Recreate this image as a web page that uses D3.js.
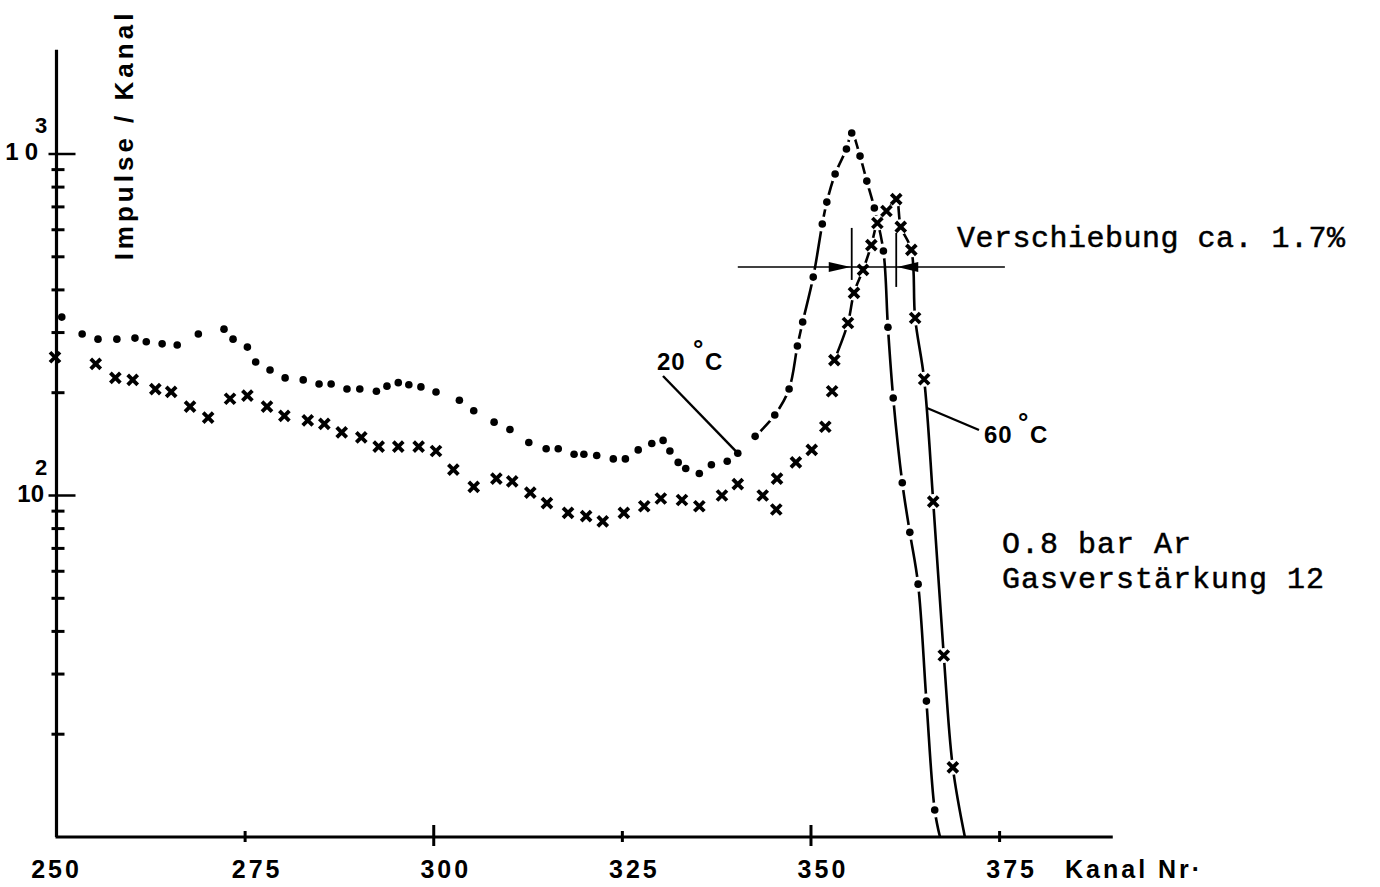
<!DOCTYPE html>
<html>
<head>
<meta charset="utf-8">
<script src="https://cdn.jsdelivr.net/npm/d3@7/dist/d3.min.js"></script>
<style>
body { margin: 0; background: #fff; }
svg { display: block; }
text { font-family: "Liberation Sans", Arial, sans-serif; fill: #000; font-weight: bold; }
.mono { font-family: "Liberation Mono", "Courier New", monospace; font-weight: normal; stroke: #000; stroke-width: 0.5; }
</style>
</head>
<body>
<div id="chart"></div>
<script>
// Kanal Nr. / Impulse pro Kanal
var ch20 = [250.7, 253.4, 255.5, 258.0, 260.4, 261.9, 264.0, 266.0, 268.8, 272.2, 273.4, 275.3, 276.4, 278.3, 280.3, 282.7, 284.8, 286.4, 288.5, 290.2,
    292.4, 293.8, 295.3, 296.7, 298.3, 300.3, 303.4, 305.3, 308.0, 310.1, 312.6, 314.9, 316.5, 318.6, 319.9, 321.6, 323.8, 325.4, 327.1, 328.9,
    330.4, 331.3, 332.4, 333.4, 335.2, 336.8, 338.9, 340.3, 342.6, 345.2, 347.1, 348.2, 348.9, 350.3, 351.5, 352.1, 353.2, 354.7, 355.4, 356.5,
    357.4, 358.4, 359.6, 360.2, 360.9, 362.1, 363.1, 364.2, 365.3, 366.4];
var cnt20 = [333, 297, 287, 287, 289, 282, 278, 276, 297, 307, 287, 272, 246, 233, 221, 218, 212, 212, 205, 205,
    202, 209, 214, 211, 208, 201, 190, 177, 164, 156, 143, 137, 137, 132, 132, 131, 128, 128, 136, 142,
    145, 135, 125, 120, 116, 123, 126, 133, 149, 172, 205, 274, 322, 436, 624, 723, 874, 1034, 1152, 986,
    833, 695, 520, 311, 193, 109, 78, 55, 25, 12];
var ch60 = [249.8, 255.2, 257.8, 260.1, 263.1, 265.2, 267.7, 270.1, 273.0, 275.3, 277.9, 280.2, 283.3, 285.5, 287.8, 290.4, 292.7, 295.3, 298.0, 300.3,
    302.6, 305.3, 308.3, 310.4, 312.8, 315.0, 317.8, 320.2, 322.4, 325.2, 327.9, 330.1, 332.9, 335.2, 338.2, 340.3, 343.6, 345.4, 345.5, 348.0,
    350.1, 351.9, 352.8, 353.1, 354.9, 355.7, 356.9, 358.0, 358.8, 360.0, 361.3, 361.9, 363.3, 363.8, 365.0, 366.2, 367.6, 368.8];
var cnt60 = [254, 243, 221, 218, 205, 201, 182, 169, 192, 196, 182, 171, 166, 162, 153, 148, 139, 139, 139, 135,
    119, 106, 112, 110, 102, 95, 89, 87, 84, 89, 93, 98, 97, 93, 100, 108, 100, 91, 112, 125,
    136, 159, 202, 249, 320, 392, 458, 541, 628, 681, 738, 612, 524, 331, 219, 96, 34, 16];
var curveFrom20 = 48, curveFrom60 = 43;
var end20 = [367.1, 10], end60 = [370.4, 10];

var xTicks = [250, 275, 300, 325, 350, 375];
var xTicksLong = [300, 350];
var yMajor = [100, 1000];
var yMinor = [20, 30, 40, 50, 60, 70, 80, 90, 200, 300, 400, 500, 600, 700, 800, 900];
var yExp = { 100: "2", 1000: "3" };
var peak20 = 355.4, peak60 = 361.3, shiftLevel = 467;

var width = 1380, height = 887;
var x = d3.scaleLinear().domain([250, 375]).range([56.5, 999.6]);
var y = d3.scaleLog().domain([10, 1000]).range([837, 154]);

var svg = d3.select("#chart").append("svg")
    .attr("width", width)
    .attr("height", height);

// axes
svg.append("line")
    .attr("x1", x(250)).attr("x2", x(250))
    .attr("y1", y(2020)).attr("y2", y(10))
    .attr("stroke", "#000").attr("stroke-width", 3.2);
svg.append("line")
    .attr("x1", x(250) - 1).attr("x2", x(390))
    .attr("y1", y(10)).attr("y2", y(10))
    .attr("stroke", "#000").attr("stroke-width", 3.2);

svg.selectAll(".ymin").data(yMinor).enter().append("line")
    .attr("x1", x(250) - 5).attr("x2", x(250) + 8)
    .attr("y1", function (d) { return y(d); }).attr("y2", function (d) { return y(d); })
    .attr("stroke", "#000").attr("stroke-width", 3);
svg.selectAll(".ymaj").data(yMajor).enter().append("line")
    .attr("x1", x(250) - 8).attr("x2", x(250) + 19)
    .attr("y1", function (d) { return y(d); }).attr("y2", function (d) { return y(d); })
    .attr("stroke", "#000").attr("stroke-width", 2.5);
svg.selectAll(".ylab").data(yMajor).enter().append("text")
    .attr("x", 44)
    .attr("y", function (d) { return y(d) + 6; })
    .attr("text-anchor", "end")
    .attr("font-size", 24)
    .attr("letter-spacing", function (d) { return d === 1000 ? 6 : 0; })
    .text("10");
svg.selectAll(".yexp").data(yMajor).enter().append("text")
    .attr("x", 35)
    .attr("y", function (d) { return y(d) - 21; })
    .attr("font-size", 22)
    .text(function (d) { return yExp[d]; });

svg.selectAll(".xt").data(xTicks.slice(1)).enter().append("line")
    .attr("x1", function (d) { return x(d); }).attr("x2", function (d) { return x(d); })
    .attr("y1", function (d) { return y(10) - (xTicksLong.indexOf(d) >= 0 ? 12 : 6); })
    .attr("y2", function (d) { return y(10) + (xTicksLong.indexOf(d) >= 0 ? 9 : 5); })
    .attr("stroke", "#000").attr("stroke-width", 3);
svg.selectAll(".xlab").data(xTicks).enter().append("text")
    .attr("x", function (d) { return x(d) + (d === 250 ? 0 : 12); })
    .attr("y", 878)
    .attr("text-anchor", "middle")
    .attr("font-size", 25)
    .attr("letter-spacing", 3)
    .text(function (d) { return d; });
svg.append("text")
    .attr("x", 1065).attr("y", 878)
    .attr("font-size", 25)
    .attr("letter-spacing", 3)
    .text("Kanal Nr·");
svg.append("text")
    .attr("transform", "translate(133,135) rotate(-90)")
    .attr("text-anchor", "middle")
    .attr("font-size", 26)
    .attr("letter-spacing", 4)
    .text("Impulse / Kanal");

// series
var pts20 = ch20.map(function (c, i) { return [c, cnt20[i]]; });
var pts60 = ch60.map(function (c, i) { return [c, cnt60[i]]; });
var line = d3.line()
    .x(function (d) { return x(d[0]); })
    .y(function (d) { return y(d[1]); })
    .curve(d3.curveCatmullRom.alpha(0.5));

var c20 = pts20.slice(curveFrom20).concat([end20]);
var c60 = pts60.slice(curveFrom60).concat([end60]);

svg.append("path").attr("d", line(c20))
    .attr("fill", "none").attr("stroke", "#000").attr("stroke-width", 2.6);
svg.selectAll(".gap20").data(pts20.slice(curveFrom20)).enter().append("circle")
    .attr("cx", function (d) { return x(d[0]); })
    .attr("cy", function (d) { return y(d[1]); })
    .attr("r", 7.5).attr("fill", "#fff");
svg.append("path").attr("d", line(c60))
    .attr("fill", "none").attr("stroke", "#000").attr("stroke-width", 2.6);
svg.selectAll(".gap60").data(pts60.slice(curveFrom60)).enter().append("circle")
    .attr("cx", function (d) { return x(d[0]); })
    .attr("cy", function (d) { return y(d[1]); })
    .attr("r", 7.5).attr("fill", "#fff");

svg.selectAll(".dot").data(pts20).enter().append("circle")
    .attr("cx", function (d) { return x(d[0]); })
    .attr("cy", function (d) { return y(d[1]); })
    .attr("r", 3.8).attr("fill", "#000");
svg.selectAll(".cross").data(pts60).enter().append("path")
    .attr("transform", function (d) { return "translate(" + x(d[0]) + "," + y(d[1]) + ")"; })
    .attr("d", "M-5,-5L5,5M-5,5L5,-5")
    .attr("stroke", "#000").attr("stroke-width", 3.8);

// shift marker
var ys = y(shiftLevel);
svg.append("line")
    .attr("x1", x(340.3)).attr("x2", x(375.7))
    .attr("y1", ys).attr("y2", ys)
    .attr("stroke", "#000").attr("stroke-width", 1.5);
svg.append("line")
    .attr("x1", x(peak20)).attr("x2", x(peak20))
    .attr("y1", ys - 39).attr("y2", ys + 13)
    .attr("stroke", "#000").attr("stroke-width", 1.8);
svg.append("line")
    .attr("x1", x(peak60)).attr("x2", x(peak60))
    .attr("y1", ys - 34).attr("y2", ys + 20)
    .attr("stroke", "#000").attr("stroke-width", 1.8);
svg.append("path")
    .attr("d", "M" + (x(peak20) - 23) + "," + (ys - 5) + "L" + (x(peak20) - 1) + "," + ys + "L" + (x(peak20) - 23) + "," + (ys + 5) + "Z")
    .attr("fill", "#000");
svg.append("path")
    .attr("d", "M" + (x(peak60) + 22) + "," + (ys - 5) + "L" + (x(peak60) + 1) + "," + ys + "L" + (x(peak60) + 22) + "," + (ys + 5) + "Z")
    .attr("fill", "#000");
svg.append("text").attr("class", "mono")
    .attr("x", 957).attr("y", 247)
    .attr("font-size", 30).attr("letter-spacing", 0.5)
    .text("Verschiebung ca. 1.7%");

// labels
svg.append("line")
    .attr("x1", 663).attr("y1", 376)
    .attr("x2", x(340.3) - 2).attr("y2", y(133) - 2)
    .attr("stroke", "#000").attr("stroke-width", 2.4);
svg.append("text").attr("x", 657).attr("y", 370).attr("font-size", 24).attr("letter-spacing", 1).text("20");
svg.append("text").attr("x", 693).attr("y", 358).attr("font-size", 26).attr("font-weight", "normal").text("°");
svg.append("text").attr("x", 705).attr("y", 370).attr("font-size", 24).text("C");

svg.append("line")
    .attr("x1", 927).attr("y1", 408)
    .attr("x2", 979).attr("y2", 430)
    .attr("stroke", "#000").attr("stroke-width", 2.4);
svg.append("text").attr("x", 984).attr("y", 443).attr("font-size", 24).attr("letter-spacing", 1).text("60");
svg.append("text").attr("x", 1018).attr("y", 431).attr("font-size", 26).attr("font-weight", "normal").text("°");
svg.append("text").attr("x", 1030).attr("y", 443).attr("font-size", 24).text("C");

svg.append("text").attr("class", "mono")
    .attr("x", 1002).attr("y", 553)
    .attr("font-size", 30).attr("letter-spacing", 1)
    .text("O.8 bar Ar");
svg.append("text").attr("class", "mono")
    .attr("x", 1002).attr("y", 588)
    .attr("font-size", 30).attr("letter-spacing", 1)
    .text("Gasverstärkung 12");
</script>
</body>
</html>
